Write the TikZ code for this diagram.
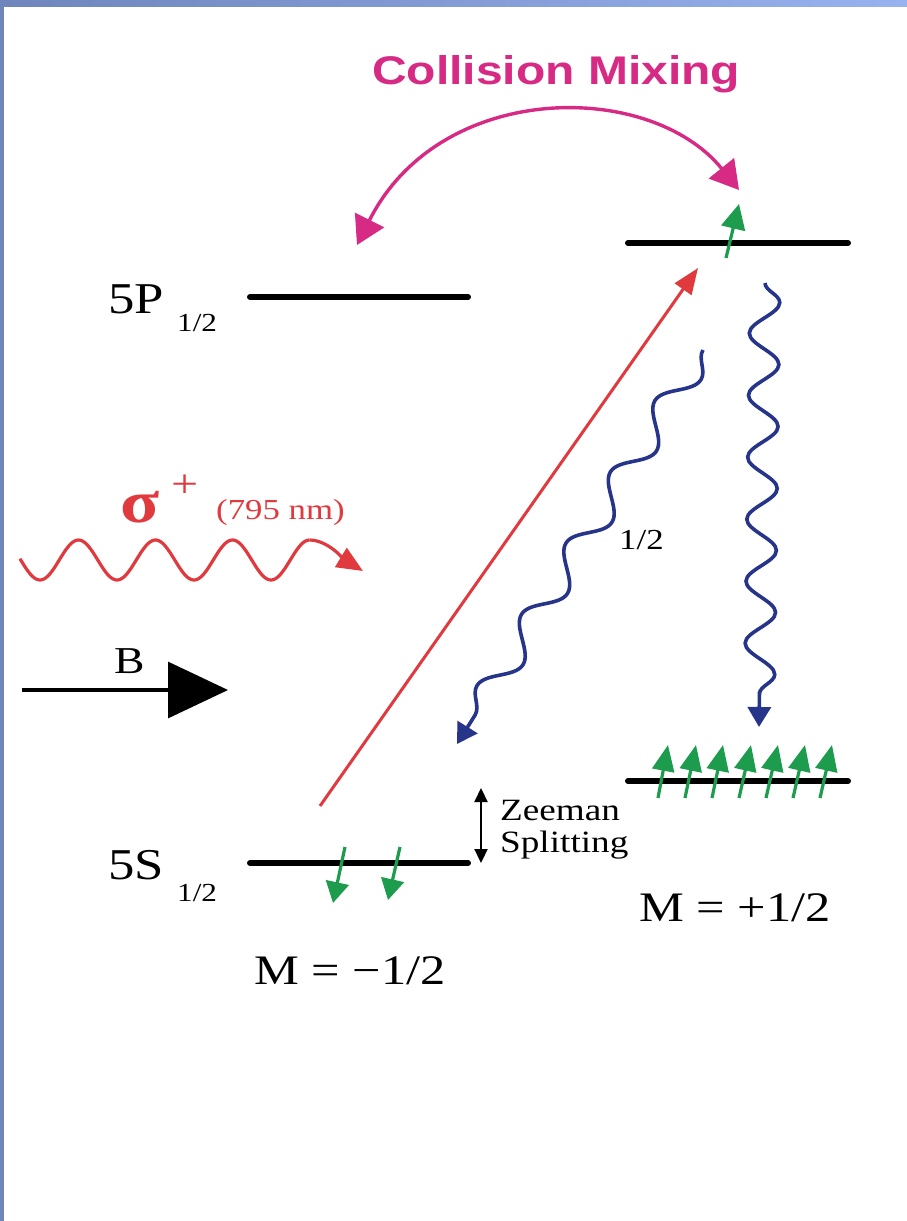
\documentclass[tikz,border=0pt]{standalone}
\usepackage{fontspec}
\setmainfont{Liberation Serif}[FakeStretch=1.2]
\newfontfamily\mixfont{Liberation Sans}[FakeStretch=1.2]
\usetikzlibrary{arrows.meta,decorations.pathmorphing}
\definecolor{bordA}{HTML}{6E86BC}
\definecolor{bordB}{HTML}{98B2F0}
\definecolor{mix}{HTML}{D62A84}
\definecolor{laser}{HTML}{E0393E}
\definecolor{spin}{HTML}{1E9C4E}
\definecolor{photon}{HTML}{26358A}
\tikzset{
  level/.style={line width=6pt, line cap=round, black},
  spinarrow/.style={spin, line width=3.2pt, -{Triangle[length=26pt,width=22pt]}},
  spindown/.style={spin, line width=3.2pt, -{Triangle[length=21pt,width=23pt]}},
  lbl/.style={inner sep=0pt, anchor=base west},
  wave/.style={photon, line width=3.6pt, decorate},
}
\begin{document}
\begin{tikzpicture}[x=1pt,y=-1pt]
\useasboundingbox (0,0) rectangle (907,1221);
\fill[white] (0,0) rectangle (907,1221);
% border
\shade[left color=bordA, right color=bordB] (0,0) rectangle (907,6);
\fill[bordA] (0,0) rectangle (4,1221);

% title
\node[lbl, text=mix] (title) at (372,84) {\mixfont\bfseries\fontsize{40}{46}\selectfont Collision Mixing};

% levels
\coordinate (pL1) at (250,297); \coordinate (pL2) at (468,297);
\coordinate (pR1) at (628,243); \coordinate (pR2) at (848,243);
\coordinate (sL1) at (250,863); \coordinate (sL2) at (468,863);
\coordinate (sR1) at (628,781); \coordinate (sR2) at (848,781);
\draw[level] (pL1) -- (pL2);
\draw[level] (pR1) -- (pR2);
\draw[level] (sL1) -- (sL2);
\draw[level] (sR1) -- (sR2);

% level labels
\node[lbl] (p5) at (108,313) {\fontsize{44}{50}\selectfont 5P};
\node[lbl] (p5s) at (177,331) {\fontsize{26}{30}\selectfont 1/2};
\node[lbl] (s5) at (108,879) {\fontsize{44}{50}\selectfont 5S};
\node[lbl] (s5s) at (177,901) {\fontsize{26}{30}\selectfont 1/2};

% collision mixing arc
\coordinate (cmL) at (357,245);
\coordinate (cmR) at (739,190);
\draw[mix, line width=3.4pt, {Triangle[length=28pt,width=32pt]}-{Triangle[length=28pt,width=32pt]}]
  (cmL) .. controls (440,80) and (650,80) .. (cmR);

% red pump line
\coordinate (rA) at (320,806);
\coordinate (rB) at (698,268);
\draw[laser, line width=3pt, -{Triangle[length=26pt,width=20pt]}] (rA) -- (rB);

% blue decay waves
\coordinate (bA) at (703,350);
\coordinate (bB) at (457,744);
\draw[wave, decoration={snake, amplitude=14pt, segment length=84pt, post length=16pt},
      -{Triangle[length=20pt,width=23pt]}] (bA) -- (bB);
\coordinate (vA) at (765,283);
\coordinate (vB) at (759,727);
\draw[wave, decoration={snake, amplitude=15pt, segment length=62pt, post length=14pt},
      -{Triangle[length=20pt,width=23pt]}] (vA) -- (vB);
\node[lbl] (half) at (619,549) {\fontsize{29}{33}\selectfont 1/2};

% green spin arrows
\coordinate (gT1) at (726,258); \coordinate (gT2) at (739,204);
\draw[spin, line width=3.2pt, -{Triangle[length=25pt,width=24pt]}] (gT1) -- (gT2);
\foreach \i/\bx/\tx in {1/658/668, 2/685/696, 3/712/723, 4/739/751, 5/766/778, 6/793/805, 7/820/832}{
  \coordinate (gb\i) at (\bx,798);
  \coordinate (gt\i) at (\tx,745);
  \draw[spinarrow] (gb\i) -- (gt\i);
}
\coordinate (gd1a) at (345,847); \coordinate (gd1b) at (333,903);
\coordinate (gd2a) at (400,847); \coordinate (gd2b) at (388,900);
\draw[spindown] (gd1a) -- (gd1b);
\draw[spindown] (gd2a) -- (gd2b);

% sigma+ wave
\coordinate (sw0) at (20,559);
\coordinate (sw1) at (309.5,540);
\coordinate (sw2) at (363,571);
\draw[laser, line width=3.2pt] plot[domain=20:309.5, samples=160] (\x, {560+20*cos(((\x-40)/77)*360)});
\draw[laser, line width=3.2pt, -{Triangle[length=26pt,width=22pt]}] (sw1) .. controls (328,540) and (345,560) .. (sw2);
\node[lbl, text=laser] (sig) at (120,522) {\fontsize{60}{64}\selectfont\bfseries σ};
\node[text=laser, inner sep=0pt] (sigp) at (185,486) {\fontsize{40}{44}\selectfont +};
\node[lbl, text=laser] (nm) at (216,519) {\fontsize{29}{33}\selectfont (795 nm)};

% B field
\coordinate (bf1) at (22,690);
\coordinate (bf2) at (228,690);
\draw[black, line width=3.2pt, -{Triangle[length=60pt,width=56pt]}] (bf1) -- (bf2);
\node[lbl] (Bl) at (114,673) {\fontsize{38}{42}\selectfont B};

% Zeeman splitting
\coordinate (z1) at (481,788);
\coordinate (z2) at (481,863);
\draw[black, line width=2.2pt, {Triangle[length=14pt,width=13pt]}-{Triangle[length=14pt,width=13pt]}] (z1) -- (z2);
\node[lbl] (zee) at (500,820) {\fontsize{31}{35}\selectfont Zeeman};
\node[lbl] (spl) at (500,852) {\fontsize{31}{35}\selectfont Splitting};

% M labels
\node[lbl] (mneg) at (254,984) {\fontsize{42}{48}\selectfont M = −1/2};
\node[lbl] (mpos) at (639,921) {\fontsize{42}{48}\selectfont M = +1/2};
\end{tikzpicture}
\end{document}
